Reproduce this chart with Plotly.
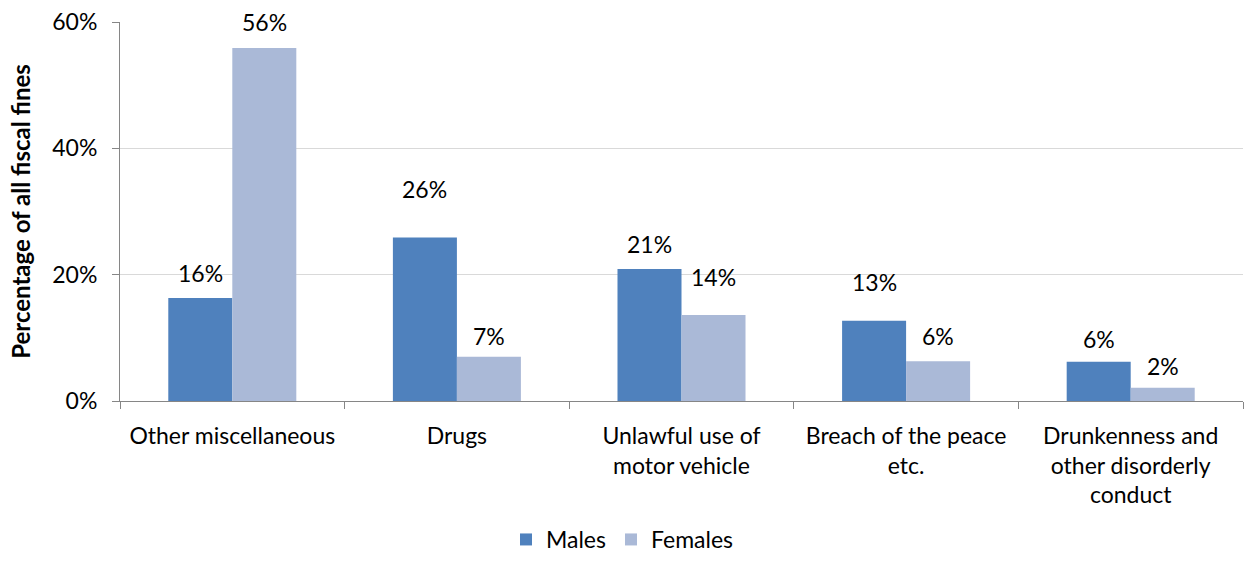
import plotly.graph_objects as go

categories = ["Other miscellaneous", "Drugs", "Unlawful use of<br>motor vehicle",
              "Breach of the peace<br>etc.", "Drunkenness and<br>other disorderly<br>conduct"]
males = [16.3, 25.9, 20.9, 12.7, 6.2]
females = [55.9, 7.0, 13.6, 6.3, 2.1]
male_labels = ["16%", "26%", "21%", "13%", "6%"]
female_labels = ["56%", "7%", "14%", "6%", "2%"]
tick_vals = [0, 20, 40, 60]
tick_text = ["0%", "20%", "40%", "60%"]

# label pixel lift above bar tops (styling)
male_shift = [25, 48, 25, 39, 23]
female_shift = [26, 21, 38, 25, 22]

FONT = "Lato, 'Open Sans', sans-serif"
FS = 23

fig = go.Figure()
fig.add_trace(go.Bar(x=categories, y=males, name="Males", marker_color="#4f81bd",
                     marker_line_width=0))
fig.add_trace(go.Bar(x=categories, y=females, name="Females", marker_color="#aab9d7",
                     marker_line_width=0))

annotations = []
for i, c in enumerate(categories):
    annotations.append(dict(x=c, y=males[i], text=male_labels[i], showarrow=False,
                            xref="x", yref="y", xshift=-32, yshift=male_shift[i],
                            yanchor="middle", font=dict(size=FS, color="#000")))
    annotations.append(dict(x=c, y=females[i], text=female_labels[i], showarrow=False,
                            xref="x", yref="y", xshift=32, yshift=female_shift[i],
                            yanchor="middle", font=dict(size=FS, color="#000")))

fig.update_layout(
    width=1245, height=561,
    margin=dict(l=120, r=2, t=22, b=160, autoexpand=False),
    paper_bgcolor="white", plot_bgcolor="white",
    font=dict(family=FONT, size=FS, color="#000"),
    barmode="group", bargap=0.43, bargroupgap=0,
    annotations=annotations,
    legend=dict(orientation="h", x=0.5, xanchor="center", xref="container",
                y=0.0, yref="container", yanchor="bottom",
                font=dict(size=FS), itemwidth=30, tracegroupgap=0),
    showlegend=True,
)
fig.update_yaxes(range=[0, 60], tickvals=tick_vals, ticktext=tick_text, automargin=False,
                 showgrid=True, gridcolor="#d9d9d9", gridwidth=1,
                 showline=True, linecolor="#868686", linewidth=1,
                 ticks="outside", ticklen=7, tickcolor="#868686",
                 tickfont=dict(size=FS), ticklabelstandoff=10,
                 title=dict(text="<b>Percentage of all fiscal fines</b>", font=dict(size=24), standoff=14),
                 zeroline=False)
fig.update_xaxes(showline=True, linecolor="#868686", linewidth=1, automargin=False,
                 ticks="outside", ticklen=7, tickcolor="#868686", tickson="boundaries",
                 tickfont=dict(size=FS), tickangle=0, ticklabelstandoff=14)

fig.write_html("out.html")
